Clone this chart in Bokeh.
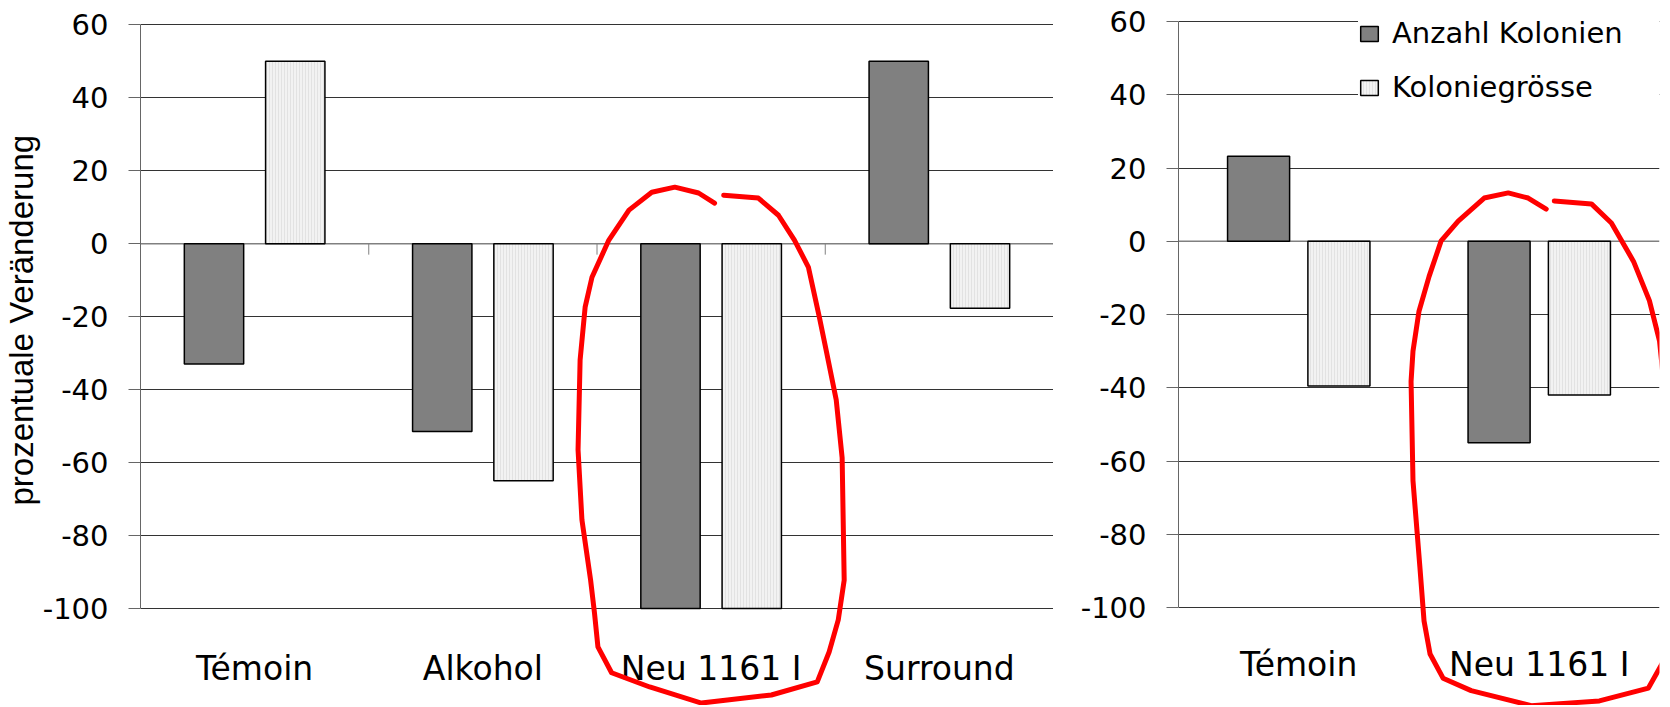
from bokeh.plotting import figure
from bokeh.layouts import row
from bokeh.models import Range1d, FixedTicker, Span, Legend, LegendItem, Title
from bokeh.core.properties import value
from bokeh.embed import file_html
from bokeh.resources import INLINE

# ---------------- data ----------------
series_names = ["Anzahl Kolonien", "Koloniegrösse"]

categories_left = ["Témoin", "Alkohol", "Neu 1161 I", "Surround"]
anzahl_left = [-33, -51.5, -100, 50]
groesse_left = [50, -65, -100, -17.7]

categories_right = ["Témoin", "Neu 1161 I"]
anzahl_right = [23.2, -55]
groesse_right = [-39.5, -42]

y_ticks = [-100, -80, -60, -40, -20, 0, 20, 40, 60]
y_title = "prozentuale Veränderung"

# hand-drawn red outline around "Neu 1161 I" (data units of each panel)
circle_left_x = [2.015, 1.945, 1.841, 1.740, 1.640, 1.552, 1.478, 1.448, 1.426, 1.417,
                 1.434, 1.472, 1.489, 1.504, 1.564, 1.731, 1.957, 2.264, 2.465, 2.517,
                 2.557, 2.583, 2.574, 2.548, 2.504, 2.474, 2.426, 2.365, 2.295, 2.207, 2.055]
circle_left_y = [11.1, 13.9, 15.5, 14.1, 9.2, 1.0, -9.2, -17.4, -31.9, -56.5,
                 -75.7, -92.2, -101.2, -110.5, -117.6, -121.5, -125.9, -123.7, -120.1, -111.9,
                 -103.1, -92.2, -58.7, -42.8, -29.2, -20.1, -6.4, 1.0, 7.8, 12.5, 13.3]

circle_right_x = [1.029, 0.954, 0.871, 0.771, 0.663, 0.592, 0.542, 0.500, 0.475, 0.467,
                  0.475, 0.504, 0.521, 0.546, 0.600, 0.717, 0.967, 1.250, 1.454, 1.517,
                  1.546, 1.558, 1.550, 1.529, 1.517, 1.500, 1.458, 1.392, 1.300, 1.217, 1.0625]
circle_right_y = [8.8, 11.8, 13.2, 11.8, 5.5, 0.1, -9.6, -19.1, -30.0, -38.3,
                  -65.4, -89.2, -103.7, -112.7, -119.3, -122.7, -126.8, -125.5, -122.0, -114.6,
                  -101.8, -81.8, -63.5, -49.1, -38.2, -27.2, -16.2, -5.5, 5.0, 10.2, 11.0]

# ---------------- styling ----------------
DARK = "#808080"
LIGHT = "#f2f2f2"
GRID = "#333333"
AXIS = "#666666"
FONT = "DejaVu Sans"


def make_panel(cats, s1, s2, width, height, border_left, border_right,
               y_start, y_end, offset, bar_w, label_y, cat_ticks):
    n = len(cats)
    p = figure(width=width, height=height,
               x_range=Range1d(-0.5, n - 0.5), y_range=Range1d(y_start, y_end),
               output_backend="svg", toolbar_location=None, x_axis_location=None,
               min_border=0, min_border_left=border_left, min_border_top=0,
               min_border_right=border_right, min_border_bottom=0,
               outline_line_color=None,
               background_fill_color="white", border_fill_color="white")
    for g in p.xgrid:
        g.visible = False
    ax = p.yaxis[0]
    ax.ticker = FixedTicker(ticks=y_ticks)
    ax.bounds = (y_ticks[0], y_ticks[-1])
    ax.major_label_overrides = {t: str(t) for t in y_ticks}
    ax.major_tick_in = 0
    ax.major_tick_out = 12
    ax.minor_tick_line_color = None
    ax.axis_line_color = AXIS
    ax.major_tick_line_color = AXIS
    ax.major_label_text_font = FONT
    ax.major_label_text_font_size = "29px"
    ax.major_label_text_color = "black"
    ax.major_label_standoff = 20
    g = p.ygrid[0]
    g.ticker = FixedTicker(ticks=[t for t in y_ticks if t != 0])
    g.grid_line_color = GRID
    g.grid_line_width = 1

    zero = Span(location=0, dimension="width", line_color="#808080", line_width=1.5,
                level="underlay")
    p.add_layout(zero)

    if cat_ticks:
        bx = [i + 0.5 for i in range(n)]
        p.segment(x0=bx, x1=bx, y0=[0] * n, y1=[-3] * n, line_color="#808080", line_width=1)

    xs = list(range(n))
    r1 = p.vbar(x=[x - offset for x in xs], top=s1, bottom=0, width=bar_w,
                fill_color=DARK, line_color="black", line_width=1.5)
    r2 = p.vbar(x=[x + offset for x in xs], top=s2, bottom=0, width=bar_w,
                fill_color=LIGHT, line_color="black", line_width=1.5,
                hatch_pattern="vertical_line", hatch_color="#e2e2e2",
                hatch_scale=3, hatch_weight=1)

    p.text(x=xs, y=[label_y] * n, text=cats, text_align="center",
           text_baseline="alphabetic", text_font=value(FONT),
           text_font_size="33px", text_color="black")
    return p, r1, r2


# left panel (frame spans the full height; 60 sits 24 px below the top)
p1, _, _ = make_panel(categories_left, anzahl_left, groesse_left,
                      width=1053, height=705, border_left=137, border_right=0,
                      y_start=60 - 681 / 3.65, y_end=60 + 24.3 / 3.65,
                      offset=0.178, bar_w=0.26, label_y=-116.5, cat_ticks=True)
p1.line(circle_left_x, circle_left_y, line_color="#ff0000", line_width=5,
        line_join="round", line_cap="round")
p1.add_layout(Title(text=y_title, align="left", offset=200, standoff=0,
                    text_font="Liberation Sans", text_font_size="33px",
                    text_font_style="normal", text_color="black"), "left")

# right panel (60 sits 21 px below the top)
p2, r1, r2 = make_panel(categories_right, anzahl_right, groesse_right,
                        width=615, height=705, border_left=125, border_right=9,
                        y_start=60 - 684 / 3.6625, y_end=60 + 21 / 3.6625,
                        offset=0.167, bar_w=0.258, label_y=-115.5, cat_ticks=False)
p2.line(circle_right_x, circle_right_y, line_color="#ff0000", line_width=5,
        line_join="round", line_cap="round")

legend = Legend(items=[LegendItem(label=series_names[0], renderers=[r1]),
                       LegendItem(label=series_names[1], renderers=[r2])],
                location=(180, 601), orientation="vertical", padding=14, spacing=20,
                margin=0, glyph_width=22, glyph_height=19, label_height=34,
                label_width=275, label_standoff=12, label_text_font=FONT,
                label_text_font_size="29px",
                label_text_color="black", border_line_color=None,
                background_fill_color="white", background_fill_alpha=1.0)
p2.add_layout(legend, "center")

layout = row(p1, p2)
open("out.html", "w").write(file_html(layout, INLINE))
